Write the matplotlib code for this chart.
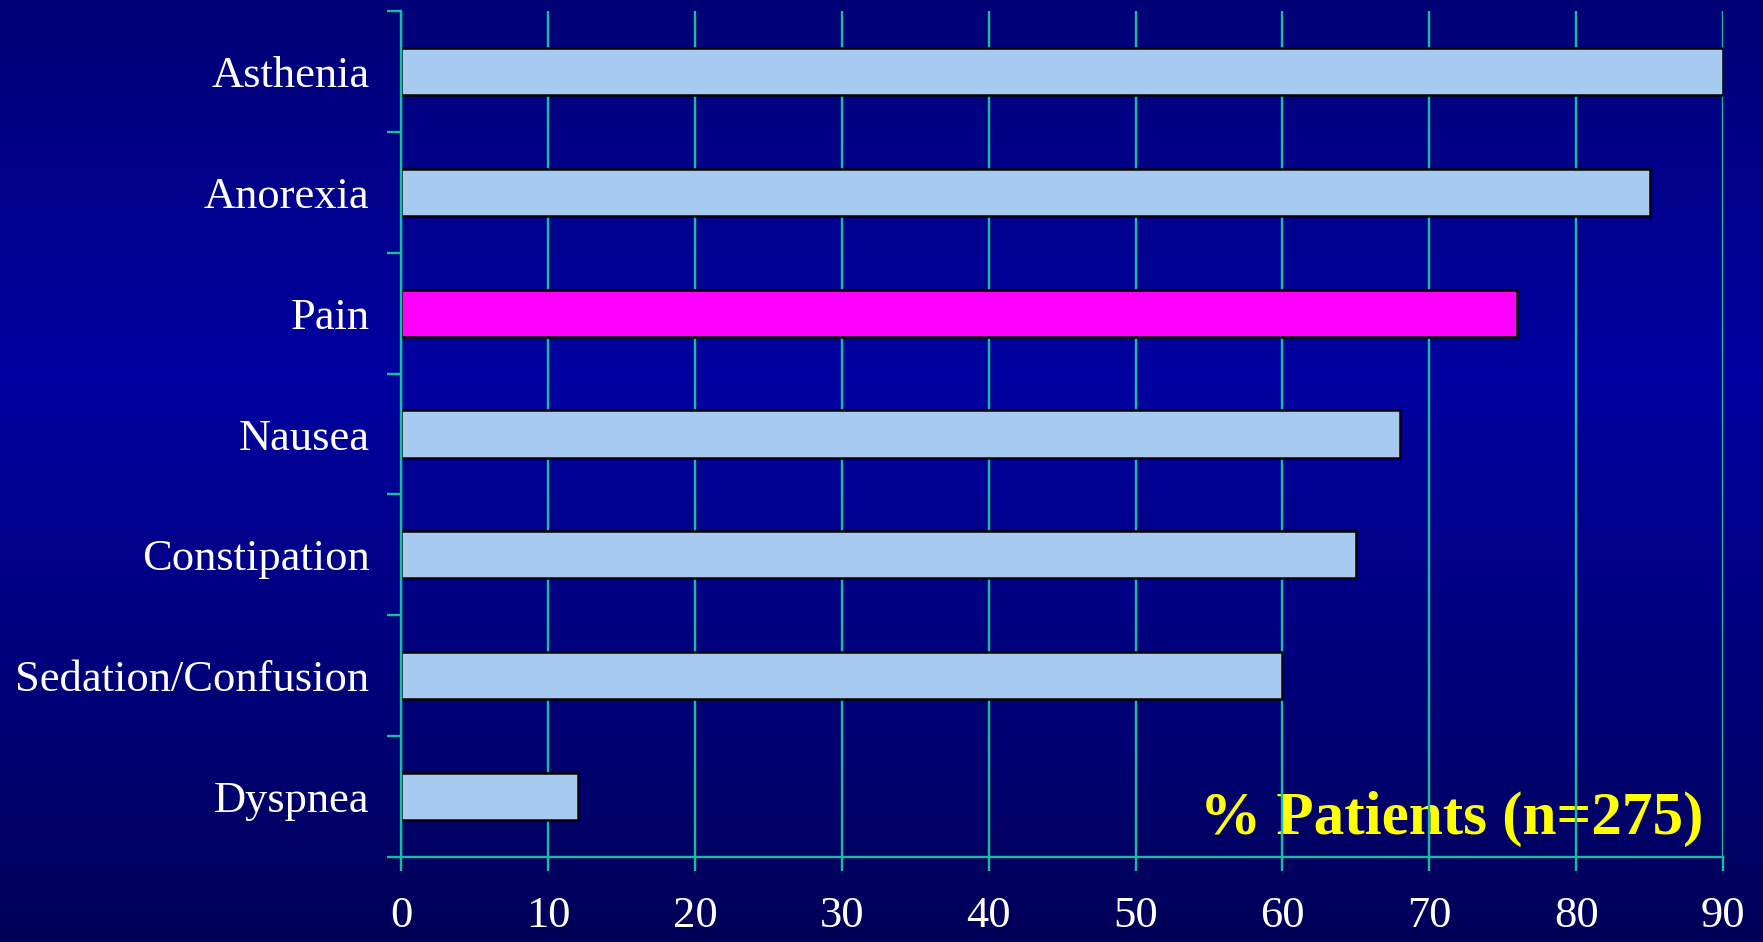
import matplotlib
matplotlib.use("Agg")
import matplotlib.pyplot as plt
import numpy as np

# data
symptoms = ["Asthenia", "Anorexia", "Pain", "Nausea", "Constipation",
            "Sedation/Confusion", "Dyspnea"]
percent = [90, 85, 76, 68, 65, 60, 12]
highlight = "Pain"
x_ticks = [0, 10, 20, 30, 40, 50, 60, 70, 80, 90]
note = "% Patients (n=275)"

teal = "#14BEA0"
bar_blue = "#A6CAF0"
magenta = "#FF00FF"

plt.rcParams["font.family"] = ["Liberation Serif", "DejaVu Serif"]

fig = plt.figure(figsize=(17.63, 9.42), dpi=100)

# vertical blue gradient for the slide background
bg = fig.add_axes([0, 0, 1, 1], zorder=-1)
stops = np.array([0.0, 0.4, 1.0])
blues = np.array([118, 160, 88]) / 255.0
yy = np.linspace(0, 1, 400)
b = np.interp(yy, stops, blues)
grad = np.zeros((400, 1, 3))
grad[:, 0, 2] = b
bg.imshow(grad, aspect="auto", extent=[0, 1, 0, 1], origin="upper")
bg.axis("off")

ax = fig.add_axes([0.2277, 0.0902, 0.7496, 0.8981])
ax.set_facecolor("none")

colors = [magenta if s == highlight else bar_blue for s in symptoms]
pos = np.arange(len(symptoms))
ax.barh(pos, percent, height=0.39, color=colors, edgecolor="black",
        linewidth=1.8, zorder=2)

ax.set_xlim(0, 90)
ax.set_ylim(len(symptoms) - 0.5, -0.5)
ax.set_xticks(x_ticks)
ax.set_yticks(pos)
ax.set_yticklabels(symptoms)
ax.set_yticks(np.arange(len(symptoms) + 1) - 0.5, minor=True)

ax.grid(axis="x", color=teal, linewidth=1.7, zorder=1)
ax.set_axisbelow(True)

for side in ["top", "right"]:
    ax.spines[side].set_visible(False)
for side in ["left", "bottom"]:
    ax.spines[side].set_color(teal)
    ax.spines[side].set_linewidth(1.7)

ax.tick_params(axis="x", colors="white", labelsize=32, length=10,
               width=1.7, color=teal, pad=18)
ax.tick_params(axis="y", which="major", colors="white", labelsize=32,
               length=0, pad=23)
ax.tick_params(axis="y", which="minor", length=10, width=1.7, color=teal)

ax.text(0.985, 0.027, note, transform=ax.transAxes, ha="right",
        va="baseline", color="yellow", fontsize=44, fontweight="bold",
        zorder=0.4)

fig.savefig("out.png", dpi=100)
